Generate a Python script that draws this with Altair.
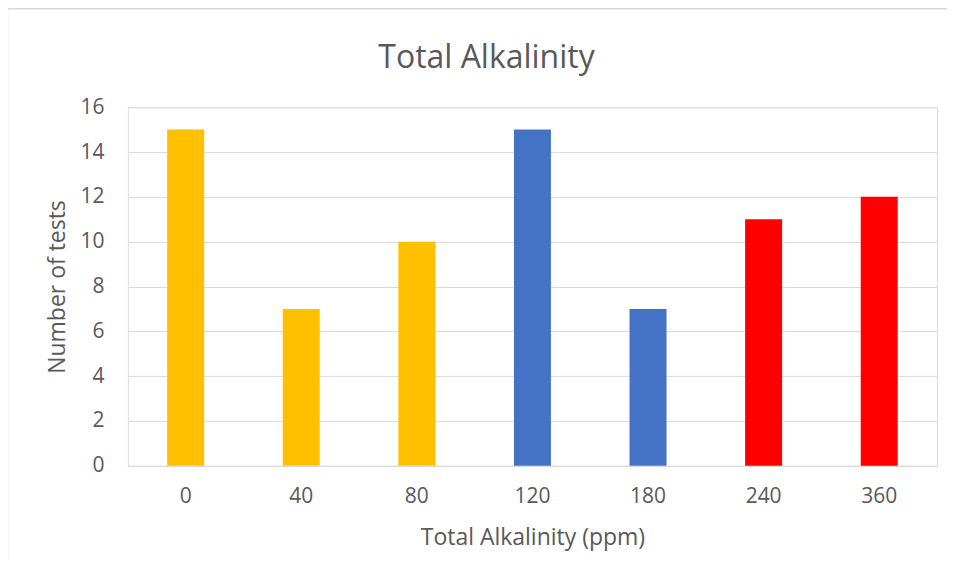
import altair as alt
import pandas as pd

categories = ["0", "40", "80", "120", "180", "240", "360"]
counts = [15, 7, 10, 15, 7, 11, 12]
bar_colors = ["#FFC000", "#FFC000", "#FFC000", "#4472C4", "#4472C4", "#FF0000", "#FF0000"]
y_ticks = [0, 2, 4, 6, 8, 10, 12, 14, 16]

df = pd.DataFrame({"alk": categories, "n": counts})
TXT = "#595959"
FONT = "Open Sans"

bars = alt.Chart(df).mark_bar().encode(
    x=alt.X("alk:N", sort=categories,
            scale=alt.Scale(paddingInner=0.68, paddingOuter=0.34),
            axis=alt.Axis(title="Total Alkalinity (ppm)", labelAngle=0, ticks=False,
                          domain=False, grid=False, labelPadding=20, titlePadding=20,
                          labelFontSize=21, titleFontSize=23, labelColor=TXT,
                          titleColor=TXT, titleFontWeight="normal",
                          labelFont=FONT, titleFont=FONT)),
    y=alt.Y("n:Q", scale=alt.Scale(domain=[0, 16], nice=False),
            axis=alt.Axis(title="Number of tests", values=y_ticks, ticks=False,
                          domain=False, grid=True, gridColor="#d9d9d9", gridWidth=1,
                          labelPadding=24, titlePadding=10, labelFontSize=21,
                          titleFontSize=23, labelColor=TXT, titleColor=TXT,
                          titleFontWeight="normal", labelFont=FONT, titleFont=FONT)),
    color=alt.Color("alk:N", scale=alt.Scale(domain=categories, range=bar_colors),
                    legend=None),
)

border = alt.Chart(pd.DataFrame({"k": [0]})).mark_rect(
    fill=None, stroke="#d9d9d9", strokeWidth=1.5
).encode(x=alt.value(-120.5), x2=alt.value(900), y=alt.value(-98.5), y2=alt.value(500))

chart = alt.layer(border, bars).properties(
    width=810, height=359,
    title=alt.TitleParams("Total Alkalinity", fontSize=32, font=FONT, color=TXT,
                          fontWeight="normal", anchor="middle", dx=-46,
                          baseline="alphabetic", offset=-92),
    autosize=alt.AutoSizeParams(type="none"),
    padding={"left": 120, "top": 99, "right": 10, "bottom": 93},
).configure_view(stroke=None).configure(background="white")

chart.save("out.html", embed_options={"renderer": "svg", "actions": False})
